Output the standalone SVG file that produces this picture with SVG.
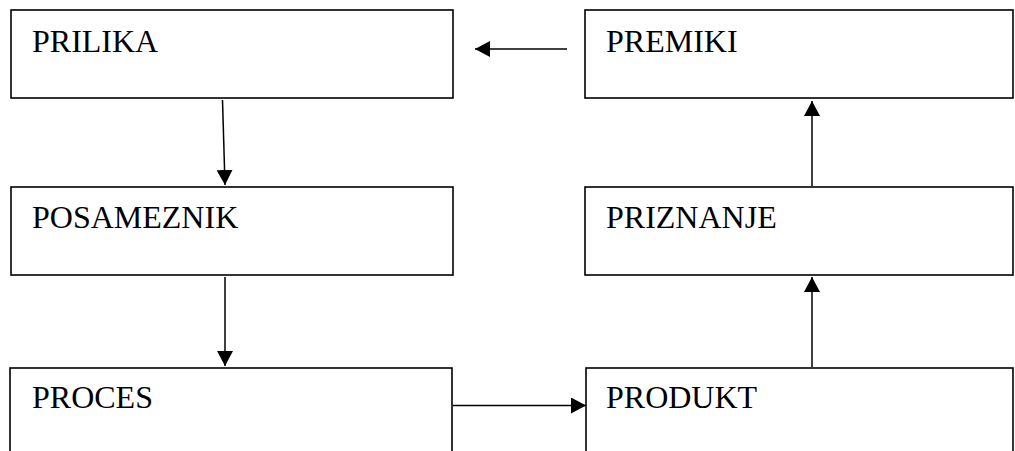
<svg xmlns="http://www.w3.org/2000/svg" width="1015" height="451" viewBox="0 0 1015 451">
<style>
.box{fill:#fff;stroke:#000;stroke-width:1.6}
.lbl{font-family:"Liberation Serif","Times New Roman",serif;font-size:32px;fill:#000}
.con{stroke:#000;stroke-width:1.5;fill:none;marker-end:url(#ah)}
</style>
<defs>
<marker id="ah" viewBox="0 0 15 16" refX="15" refY="8" markerWidth="15" markerHeight="16" markerUnits="userSpaceOnUse" orient="auto">
<path d="M0,0 L15,8 L0,16 z" fill="#000"/>
</marker>
</defs>
<rect x="0" y="0" width="1015" height="451" fill="#fff"/>
<g id="prilika"><rect class="box" x="11" y="10" width="442" height="88"/><text class="lbl" x="32" y="52">PRILIKA</text></g>
<g id="premiki"><rect class="box" x="585" y="10" width="428" height="88"/><text class="lbl" x="606" y="52">PREMIKI</text></g>
<g id="posameznik"><rect class="box" x="11" y="187" width="442" height="88"/><text class="lbl" x="32" y="228">POSAMEZNIK</text></g>
<g id="priznanje"><rect class="box" x="585" y="187" width="428" height="88"/><text class="lbl" x="606" y="228">PRIZNANJE</text></g>
<g id="proces"><rect class="box" x="10" y="368" width="442" height="120"/><text class="lbl" x="32" y="408">PROCES</text></g>
<g id="produkt"><rect class="box" x="586" y="368" width="427" height="120"/><text class="lbl" x="606" y="408">PRODUKT</text></g>
<g id="connectors">
<line class="con" x1="567" y1="49" x2="475" y2="49"/>
<line class="con" x1="222.5" y1="100" x2="225" y2="185"/>
<line class="con" x1="225" y1="277" x2="225" y2="366"/>
<line class="con" x1="453" y1="405.5" x2="586" y2="405.5"/>
<line class="con" x1="812" y1="367" x2="812" y2="277"/>
<line class="con" x1="812" y1="186" x2="812" y2="101"/>
</g>
</svg>
